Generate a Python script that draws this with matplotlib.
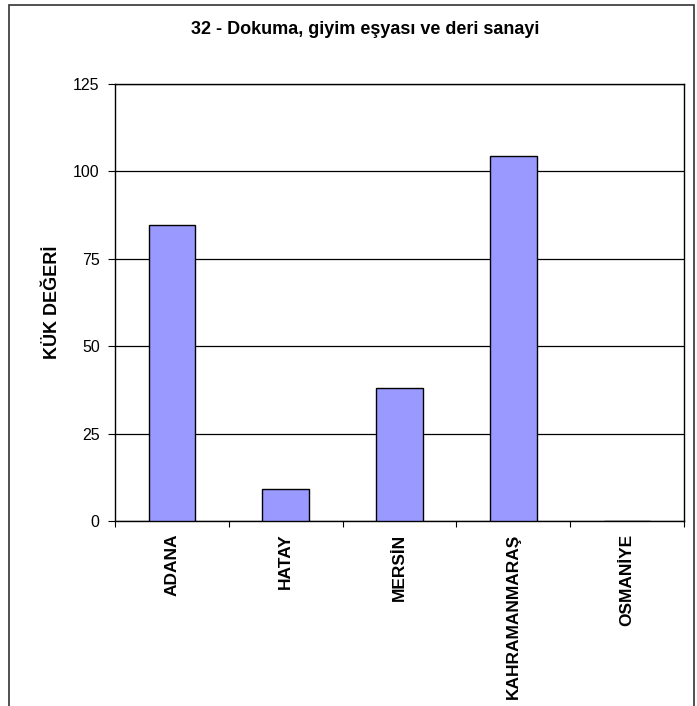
import matplotlib.pyplot as plt
from matplotlib.patches import Rectangle
import numpy as np

plt.rcParams['font.family'] = ['Liberation Sans', 'DejaVu Sans']

# veriler
iller = ['ADANA', 'HATAY', 'MERSİN', 'KAHRAMANMARAŞ', 'OSMANİYE']
kuk = [84.8, 9.2, 38.0, 104.4, 0.0]
yticks = [0, 25, 50, 75, 100, 125]
baslik = '32 - Dokuma, giyim eşyası ve deri sanayi'

fig = plt.figure(figsize=(6.97, 7.06), dpi=100)
ax = fig.add_axes([115/697, 1 - 521/706, (684 - 115)/697, (521 - 84)/706])

x = np.arange(len(iller))
ax.bar(x, kuk, width=0.41, color='#9999FF', edgecolor='black', linewidth=1, zorder=3)

ax.set_xlim(-0.5, len(iller) - 0.5)
ax.set_ylim(0, 125)
ax.set_yticks(yticks)
ax.set_yticklabels([str(t) for t in yticks], fontsize=11.5)
ax.yaxis.grid(True, color='black', linewidth=0.9, zorder=0)
ax.tick_params(axis='y', direction='out', length=5, width=0.8, pad=6)

# tick'ler kategori aralarinda, etiketler ortada
ax.set_xticks(np.arange(-0.5, len(iller), 1.0))
ax.set_xticklabels([])
ax.set_xticks(x, minor=True)
ax.set_xticklabels(iller, minor=True, rotation=90, fontsize=12.5, fontweight='bold')
ax.tick_params(axis='x', which='major', direction='out', length=4, width=0.8)
ax.tick_params(axis='x', which='minor', length=0, pad=9)

for s in ax.spines.values():
    s.set_linewidth(1.0)
    s.set_color('black')

ax.set_ylabel('KÜK DEĞERİ', fontsize=13, fontweight='bold', labelpad=9)

fig.text(365/697, 1 - 34/706, baslik, ha='center', va='baseline',
         fontsize=13, fontweight='bold')

# dis cerceve
fig.patches.append(Rectangle((8.5/697, -0.05), (694 - 8.5)/697, 1.05 - 5.5/706,
                             transform=fig.transFigure, fill=False,
                             edgecolor='#333333', linewidth=1.2))

fig.savefig('out.png', dpi=100)
